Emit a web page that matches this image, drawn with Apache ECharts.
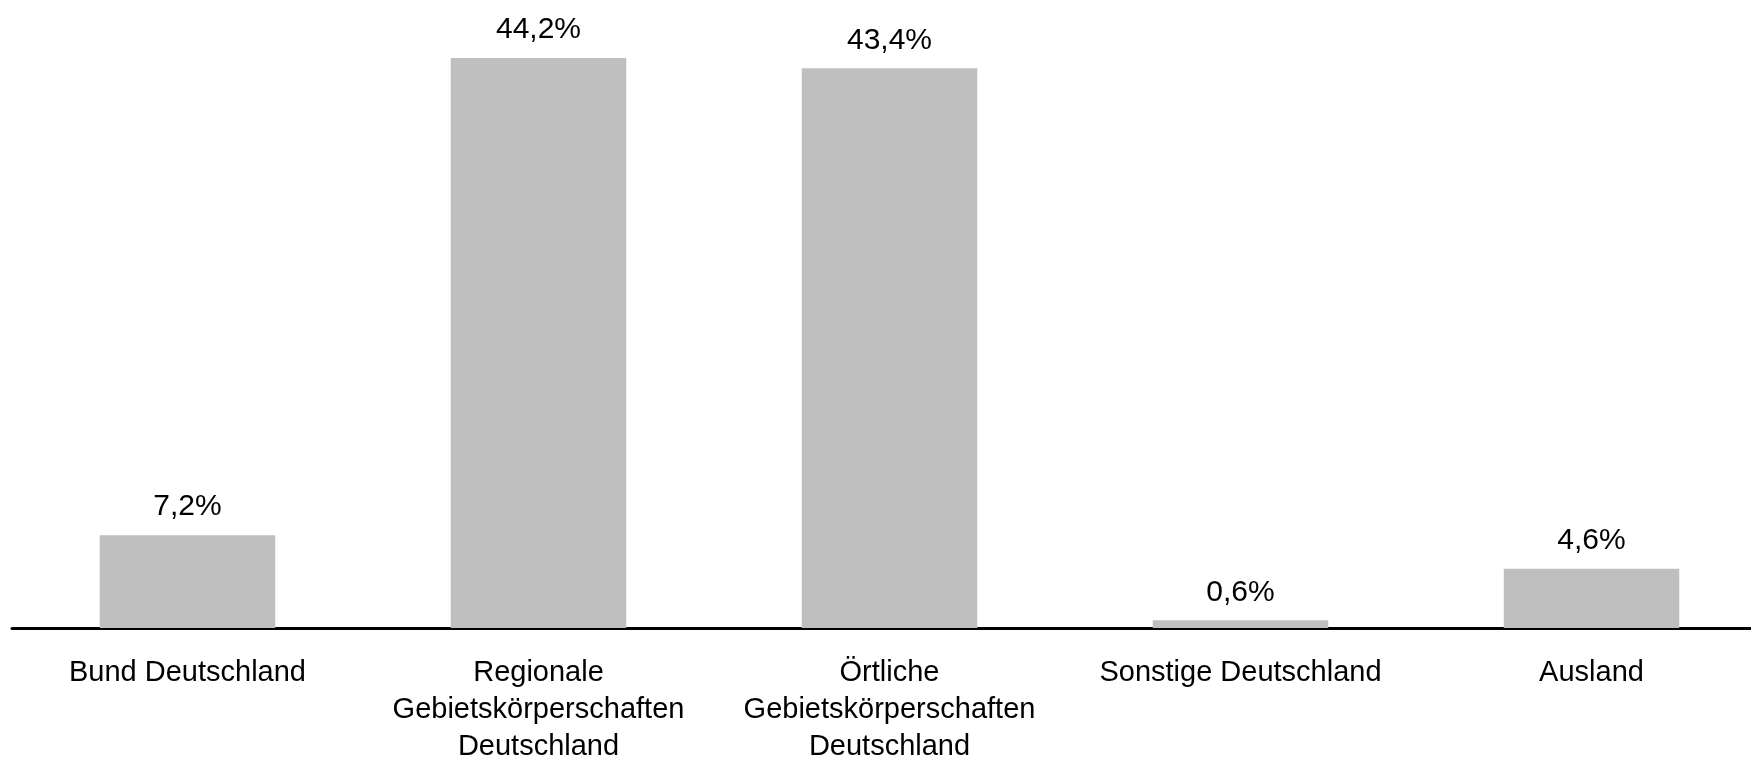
<!DOCTYPE html>
<html>
<head>
<meta charset="utf-8">
<script src="https://cdn.jsdelivr.net/npm/echarts@6/dist/echarts.min.js"></script>
<style>
html,body{margin:0;padding:0;background:#fff;overflow:hidden;width:1751px;height:765px;}
#chart{width:1767px;height:765px;}
</style>
</head>
<body>
<div id="chart"></div>
<script>
const categories = [
  "Bund Deutschland",
  "Regionale\nGebietskörperschaften\nDeutschland",
  "Örtliche\nGebietskörperschaften\nDeutschland",
  "Sonstige Deutschland",
  "Ausland"
];
const values = [7.2, 44.2, 43.4, 0.6, 4.6];

const chart = echarts.init(document.getElementById('chart'), null, {renderer: 'canvas'});
const font = '"Liberation Sans", Arial, sans-serif';
chart.setOption({
  animation: false,
  backgroundColor: '#ffffff',
  grid: {left: 12, right: 0, top: 9, bottom: 132, containLabel: false},
  xAxis: {
    type: 'category',
    data: categories,
    axisLine: {show: true, lineStyle: {color: '#000', width: 3}},
    axisTick: {show: false},
    axisLabel: {
      interval: 0,
      margin: 26,
      color: '#000',
      fontFamily: font,
      fontSize: 29,
      lineHeight: 37,
      align: 'center'
    }
  },
  yAxis: {
    type: 'value',
    min: 0,
    max: 48,
    show: false,
    splitLine: {show: false}
  },
  series: [{
    type: 'bar',
    data: values,
    barWidth: '50%',
    itemStyle: {color: '#bfbfbf'},
    label: {
      show: true,
      position: 'top',
      distance: 13,
      color: '#000',
      fontFamily: font,
      fontSize: 30,
      formatter: p => p.value.toFixed(1).replace('.', ',') + '%'
    }
  }]
});
</script>
</body>
</html>
